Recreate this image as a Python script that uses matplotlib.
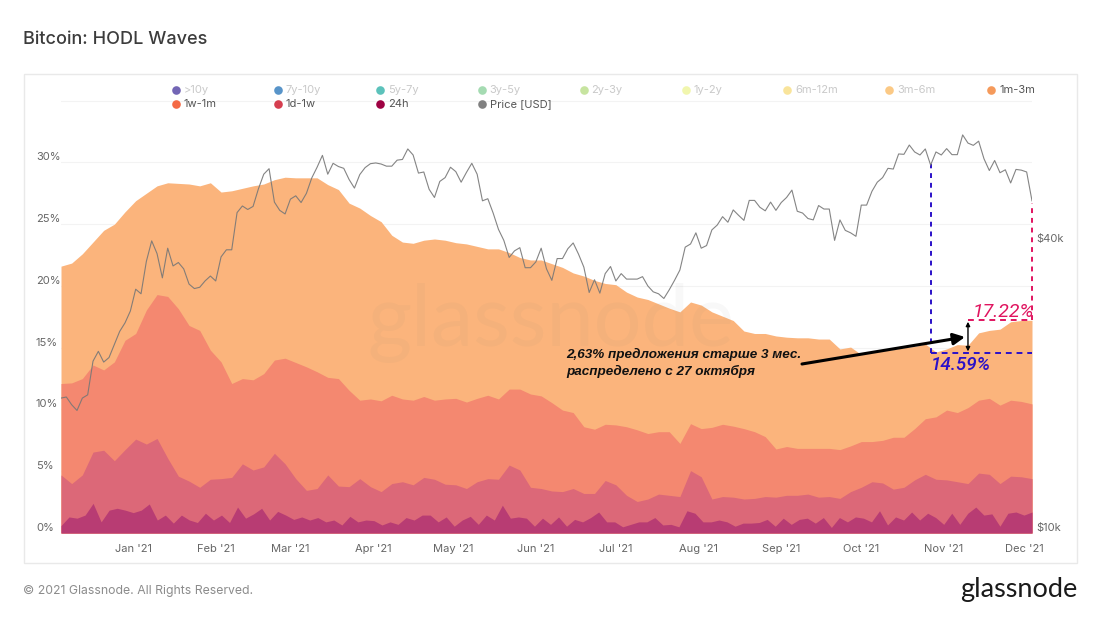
import matplotlib
matplotlib.use("Agg")
import matplotlib.pyplot as plt
import matplotlib.dates as mdates
from matplotlib.lines import Line2D
from matplotlib.patches import Rectangle
import pandas as pd

plt.rcParams["font.family"] = ["Inter", "DejaVu Sans"]

W, H = 1100, 619

start = "2020-12-05"
end = "2021-12-04"

# cumulative tops of the bands, in percent of supply, one value every 4 days
top_1m3m = [21.6, 21.85, 22.6, 23.55, 24.5, 25.0, 26.0, 26.9, 27.5, 28.1, 28.35, 28.3, 28.25, 28.1, 28.35, 27.6,
            27.7, 27.9, 28.1, 28.25, 28.6, 28.8, 28.75, 28.75, 28.75, 28.2, 27.8, 26.7, 26.3, 25.7, 25.2, 24.1,
            23.55, 23.45, 23.7, 23.8, 23.7, 23.5, 23.4, 23.2, 23.0, 23.0, 22.7, 22.3, 22.1, 22.1, 21.8, 21.5,
            21.05, 20.8, 20.45, 20.2, 20.1, 19.5, 19.1, 18.9, 18.55, 18.2, 17.9, 18.7, 18.45, 17.9, 17.55, 17.2,
            16.35, 16.15, 16.15, 15.95, 15.85, 15.8, 15.8, 15.7, 15.7, 14.9, 15.05, 14.45, 14.6, 14.75, 14.85, 15.0,
            15.1, 15.3, 14.65, 14.9, 15.25, 15.2, 16.2, 16.4, 16.5, 17.1, 17.2, 17.22]
top_1w1m = [12.1, 12.15, 12.5, 13.6, 13.2, 13.85, 15.6, 16.15, 18.05, 19.3, 19.15, 18.15, 16.8, 16.4, 14.8, 13.85,
            12.1, 12.5, 12.4, 12.9, 14.0, 14.15, 13.8, 13.45, 13.05, 12.6, 12.5, 11.55, 10.75, 10.85, 10.7, 11.15,
            10.85, 10.75, 11.05, 10.75, 10.85, 10.9, 10.6, 10.9, 11.15, 10.85, 11.65, 11.65, 11.25, 11.1, 10.55, 9.95,
            9.75, 8.6, 8.4, 8.8, 8.75, 8.6, 8.35, 8.05, 8.2, 8.2, 7.25, 8.85, 8.45, 8.55, 8.8, 8.65,
            8.45, 8.2, 7.8, 6.8, 7.0, 6.85, 6.85, 6.85, 6.85, 6.75, 7.05, 7.4, 7.4, 7.5, 7.75, 7.75,
            8.45, 9.25, 9.4, 9.95, 9.75, 10.15, 10.75, 10.9, 10.35, 10.75, 10.65, 10.45]
top_1d1w = [4.7, 4.0, 4.7, 6.55, 6.7, 5.85, 6.75, 7.6, 7.2, 7.65, 6.05, 4.6, 4.2, 3.7, 4.35, 4.4,
            4.5, 5.6, 5.1, 5.35, 6.45, 5.6, 4.4, 3.45, 3.6, 4.7, 3.8, 3.75, 4.4, 3.75, 3.35, 4.0,
            4.15, 3.9, 4.5, 4.35, 3.95, 3.9, 3.6, 4.15, 4.4, 4.35, 5.5, 5.1, 3.7, 3.6, 3.4, 3.35,
            3.6, 3.2, 3.2, 4.25, 3.9, 3.05, 2.55, 2.75, 3.15, 3.05, 2.95, 5.05, 4.55, 2.75, 2.95, 2.9,
            2.75, 2.8, 2.95, 2.9, 3.05, 3.05, 3.15, 2.9, 2.95, 2.8, 3.35, 3.7, 4.15, 4.05, 3.55, 3.7,
            4.3, 4.75, 4.35, 4.3, 4.15, 4.0, 4.85, 4.75, 4.0, 4.6, 4.55, 4.4]
# the 24h band is spikier, one value every 3 days
top_24h = [0.6, 1.3, 1.2, 1.45, 2.4, 0.9, 1.85, 2.0, 1.85, 1.65, 1.85, 2.35, 1.05, 1.45, 0.8, 1.45,
           1.05, 0.85, 1.6, 1.05, 1.45, 0.85, 2.1, 1.2, 1.55, 2.0, 1.05, 1.75, 1.45, 1.1, 1.3,
           1.05, 1.25, 0.9, 1.05, 0.65, 1.35, 0.9, 1.05, 1.0, 0.65, 0.9, 0.7, 1.25, 1.05, 1.45, 1.45,
           0.9, 1.3, 0.55, 1.05, 1.35, 0.7, 1.45, 1.05, 2.25, 1.2, 1.3, 1.2, 0.55, 1.2, 0.7,
           1.3, 0.55, 1.1, 0.9, 1.25, 1.7, 0.9, 0.9, 0.5, 0.7, 0.9, 0.9, 1.25, 0.65, 0.7, 0.5,
           1.8, 1.6, 0.9, 0.9, 1.05, 0.9, 0.55, 0.8, 0.8, 0.85, 1.1, 0.55, 1.2, 0.7,
           1.1, 1.2, 0.8, 1.25, 0.45, 1.25, 0.9, 1.3, 1.2, 0.9, 1.8, 0.65, 1.3, 1.05, 1.7, 1.05,
           1.6, 1.25, 0.7, 1.6, 0.7, 1.6, 2.1, 1.45, 1.55, 0.55, 1.6, 1.7, 1.45, 1.7]

# price in USD, one value every 2 days
price = [19100, 19200, 18500, 18000, 19100, 19400, 22800, 23900, 22700, 23200, 24700, 26300, 27400, 29000,
         32200, 31500, 36800, 40600, 38200, 34000, 39200, 36000, 36600, 35500, 33000, 32300, 32500, 33500, 34300,
         33500, 37600, 38900, 38900, 46500, 48000, 47200, 47900, 52100, 55900, 57400, 48900, 47000, 46200,
         49600, 50400, 48800, 51000, 54900, 57800, 61200, 55900, 58900, 58000, 57500, 54500, 52300, 55800, 57700, 58800,
         59000, 58700, 58100, 58100, 59800, 60000, 63100, 61300, 56200, 56500, 52000, 50000, 54000, 55000, 57800,
         56600, 53800, 56400, 58900, 55900, 49200, 49700, 46400, 42900, 40700, 37500, 38700, 39300, 35700, 35700,
         36700, 39200, 35500, 33600, 37300, 37300, 39100, 40200, 38100, 35800, 31700, 33700, 31600, 34700, 35900,
         33500, 34700, 33800, 33800, 33800, 34200, 32700, 31800, 31500, 30800, 32100, 33600, 35300, 39400, 40000, 42200,
         39200, 39700, 42800, 43800, 45600, 44400, 47100, 45900, 44800, 49300, 49300, 47700, 46900, 48900, 47000,
         48800, 50000, 51800, 46800, 46400, 45200, 44900, 48100, 47300, 47300, 40700, 44900, 42700, 42200, 41500,
         48200, 48200, 51500, 53800, 55000, 57500, 57300, 61600, 61500, 64300, 62200, 61300, 63100, 58400, 62200, 61300,
         63200, 61400, 61400, 67500, 64900, 64200, 65500, 60200, 56900, 59700, 56300, 57100, 53600, 57200, 57000,
         56500, 49200]

legend_names = [">10y", "7y-10y", "5y-7y", "3y-5y", "2y-3y", "1y-2y", "6m-12m", "3m-6m", "1m-3m",
                "1w-1m", "1d-1w", "24h", "Price [USD]"]
legend_colors = ["#5b4ba8", "#3b82c0", "#3fb8af", "#95d5a5", "#bee08f", "#eff5a0", "#f9e08a", "#fbc070", "#f59a5b",
                 "#f46a45", "#d53e4f", "#9e0142", "#808080"]
legend_active = [False, False, False, False, False, False, False, False, True, True, True, True, True]

pct_ticks = [0, 5, 10, 15, 20, 25, 30, 35]
pct_labels = ["0%", "5%", "10%", "15%", "20%", "25%", "30%", ""]

fig = plt.figure(figsize=(W / 100, H / 100), dpi=100)


def fx(x):
    return x / W


def fy(y):
    return 1 - y / H


ax = fig.add_axes([fx(61), fy(533), (1032 - 61) / W, (533 - 100) / H])
fig.add_artist(Rectangle((fx(23.5), fy(563)), 1053.5 / W, 489 / H, transform=fig.transFigure,
                         fill=False, ec="#e9e9e9", lw=1))

days4 = pd.date_range(start, end, periods=len(top_1m3m))
days3 = pd.date_range(start, end, periods=len(top_24h))
days2 = pd.date_range(start, periods=len(price), freq="2D")

ax.fill_between(days4, 0, top_1m3m, color="#fbb47c", lw=0, zorder=2)
ax.fill_between(days4, 0, top_1w1m, color="#f48870", lw=0, zorder=2.1)
ax.fill_between(days4, 0, top_1d1w, color="#dc6878", lw=0, zorder=2.2)
ax.fill_between(days3, 0, top_24h, color="#b83c73", lw=0, zorder=2.3)

ax.set_xlim(pd.Timestamp(start), pd.Timestamp(end))
ax.set_ylim(0, 35.05)
ax.set_yticks(pct_ticks)
ax.set_yticklabels(pct_labels, ha="left", va="bottom")
ax.xaxis.set_major_locator(mdates.MonthLocator())
ax.xaxis.set_major_formatter(mdates.DateFormatter("%b '%y"))
ax.tick_params(axis="x", length=0, pad=8, labelsize=8, labelcolor="#666666")
ax.tick_params(axis="y", length=0, pad=18, labelsize=8, labelcolor="#666666")
ax.grid(axis="y", color="#f3f3f3", lw=0.8, zorder=0)
ax.set_axisbelow(True)
for s in ax.spines.values():
    s.set_visible(False)

ax2 = ax.twinx()
ax2.set_yscale("log")
ax2.set_ylim(10000, 79800)
ax2.set_yticks([10000, 40000])
ax2.set_yticklabels(["$10k", "$40k"], va="bottom")
ax2.minorticks_off()
ax2.tick_params(axis="y", length=0, pad=3, labelsize=8, labelcolor="#666666")
for s in ax2.spines.values():
    s.set_visible(False)
ax2.plot(days2, price, color="#777777", lw=0.8, alpha=0.9, zorder=5)

# watermark
fig.text(fx(551), fy(322), "glassnode", fontsize=61, color="#7a7a7a", alpha=0.05, ha="center", va="center",
         family=["Lato", "DejaVu Sans"], zorder=3)

# manual marks on top of the chart
blue = "#2a10c8"
pink = "#e0145f"
oct27 = pd.Timestamp("2021-10-27")
last = pd.Timestamp(end)
nov10 = pd.Timestamp("2021-11-10")
ax.plot([oct27, oct27], [14.59, 29.9], color=blue, lw=1.4, ls=(0, (2.5, 2.5)), zorder=6, clip_on=False)
ax.plot([oct27, last], [14.59, 14.59], color=blue, lw=1.4, ls=(0, (3, 2.5)), zorder=6, clip_on=False)
ax.plot([last, last], [17.22, 26.75], color=pink, lw=1.4, ls=(0, (2.5, 2.5)), zorder=6, clip_on=False)
ax.plot([nov10, last], [17.22, 17.22], color=pink, lw=1.4, ls=(0, (3, 2.5)), zorder=6, clip_on=False)
ax.annotate("", xy=(nov10, 17.1), xytext=(nov10, 14.7),
            arrowprops=dict(arrowstyle="<|-|>", color="black", lw=1, mutation_scale=6, shrinkA=0, shrinkB=0), zorder=7)
ax.annotate("", xy=(965 / W, 1 - 337 / H), xytext=(802 / W, 1 - 364 / H), xycoords="figure fraction",
            textcoords="figure fraction",
            arrowprops=dict(arrowstyle="-|>", color="black", lw=2.2, mutation_scale=17, shrinkA=0, shrinkB=0), zorder=7)

note_font = ["Liberation Sans", "DejaVu Sans"]
fig.text(fx(566), fy(354), "2,63% предложения старше 3 мес.", fontsize=9.7, style="italic", weight="bold",
         family=note_font, color="#111111", va="center")
fig.text(fx(566), fy(371), "распределено с 27 октября", fontsize=9.7, style="italic", weight="bold",
         family=note_font, color="#111111", va="center")
fig.text(fx(973), fy(312), "17.22%", fontsize=14, style="italic", color=pink, va="center",
         family=["Roboto", "DejaVu Sans"])
fig.text(fx(931), fy(365), "14.59%", fontsize=13.6, style="italic", color=blue, va="center",
         family=["Roboto", "DejaVu Sans"], weight="medium")

# legend
for i, name in enumerate(legend_names):
    col = i % 9
    row = i // 9
    x = 176 + 101.9 * col
    y = 90 + 14 * row
    on = legend_active[i]
    fig.add_artist(Line2D([fx(x)], [fy(y)], marker="o", ms=6.2, mew=0, color=legend_colors[i],
                          alpha=1 if on else 0.85, transform=fig.transFigure))
    fig.text(fx(x + 8), fy(y), name, fontsize=8, color="#555555" if on else "#c9c9c9", va="center")

fig.text(fx(23), fy(39), "Bitcoin: HODL Waves", fontsize=13, weight="medium", color="#3c3c3c", va="center")
fig.text(fx(23), fy(591), "© 2021 Glassnode. All Rights Reserved.", fontsize=8.8, color="#8c8c8c", va="center")
fig.text(fx(1077), fy(590), "glassnode", fontsize=19.5, color="#1a1a1a", ha="right", va="center",
         family=["Lato", "DejaVu Sans"])

fig.savefig("out.png", dpi=100)
